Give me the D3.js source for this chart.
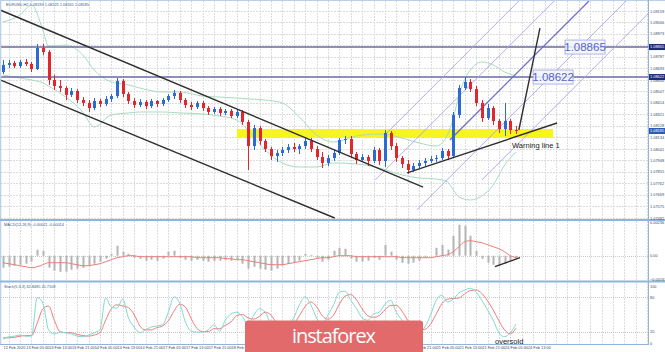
<!DOCTYPE html>
<html>
<head>
<meta charset="utf-8">
<script src="https://cdn.jsdelivr.net/npm/d3@7"></script>
<style>
	body { margin: 0; background: #fff; }
	svg { display: block; font-family: "Liberation Sans", Arial, sans-serif; }
</style>
</head>
<body>
<svg id="chart" width="665" height="352"></svg>
<script>
// ---- data (EURUSD H2) ----
const opens = [1.08663,1.08720,1.08736,1.08711,1.08744,1.08728,1.08687,1.08857,1.08825,1.08598,
	1.08549,1.08533,1.08477,1.08509,1.08436,1.08412,1.08371,1.08428,1.08404,1.08444,
	1.08468,1.08590,1.08485,1.08428,1.08396,1.08420,1.08387,1.08428,1.08404,1.08436,
	1.08468,1.08493,1.08436,1.08396,1.08379,1.08412,1.08371,1.08339,1.08363,1.08331,
	1.08347,1.08306,1.08339,1.08258,1.08063,1.08209,1.08104,1.08039,1.07982,1.08007,
	1.08031,1.08055,1.08039,1.08063,1.08104,1.08039,1.07974,1.07926,1.07966,1.08007,
	1.08112,1.08120,1.07999,1.07950,1.07974,1.07942,1.08031,1.07942,1.08169,1.08063,
	1.07966,1.07918,1.07869,1.07901,1.07926,1.07942,1.07958,1.07966,1.08023,1.07982,
	1.08315,1.08533,1.08582,1.08525,1.08412,1.08290,1.08371,1.08266,1.08201,1.08266,
	1.08193];
const highs = [1.08760,1.08760,1.08752,1.08760,1.08768,1.08744,1.08890,1.08890,1.08841,1.08639,
	1.08598,1.08549,1.08533,1.08525,1.08460,1.08436,1.08452,1.08444,1.08468,1.08485,
	1.08614,1.08606,1.08501,1.08452,1.08444,1.08436,1.08444,1.08436,1.08452,1.08485,
	1.08517,1.08509,1.08452,1.08420,1.08428,1.08428,1.08387,1.08379,1.08379,1.08363,
	1.08363,1.08355,1.08355,1.08274,1.08234,1.08225,1.08120,1.08055,1.08031,1.08055,
	1.08080,1.08088,1.08080,1.08128,1.08128,1.08063,1.08015,1.07991,1.08031,1.08128,
	1.08144,1.08144,1.08015,1.07999,1.07991,1.08055,1.08047,1.08193,1.08185,1.08088,
	1.07982,1.07950,1.07926,1.07950,1.07966,1.07982,1.07991,1.08047,1.08039,1.08339,
	1.08558,1.08622,1.08606,1.08549,1.08436,1.08404,1.08387,1.08282,1.08412,1.08282,
	1.08225];
const lows = [1.08647,1.08695,1.08695,1.08695,1.08711,1.08663,1.08679,1.08800,1.08558,1.08517,
	1.08501,1.08436,1.08460,1.08412,1.08387,1.08339,1.08355,1.08379,1.08387,1.08420,
	1.08452,1.08460,1.08404,1.08371,1.08379,1.08363,1.08371,1.08379,1.08387,1.08420,
	1.08444,1.08412,1.08371,1.08355,1.08363,1.08347,1.08315,1.08323,1.08306,1.08315,
	1.08290,1.08290,1.08234,1.07869,1.08031,1.08072,1.08015,1.07950,1.07934,1.07982,
	1.08007,1.08015,1.07999,1.08039,1.08015,1.07950,1.07885,1.07901,1.07942,1.07991,
	1.08080,1.07966,1.07918,1.07934,1.07901,1.07926,1.07909,1.07893,1.08031,1.07934,
	1.07885,1.07837,1.07853,1.07885,1.07901,1.07926,1.07934,1.07950,1.07950,1.07966,
	1.08290,1.08517,1.08501,1.08387,1.08258,1.08274,1.08234,1.08169,1.08144,1.08161,
	1.08161];
const closes = [1.08720,1.08736,1.08711,1.08744,1.08728,1.08687,1.08857,1.08825,1.08598,1.08549,
	1.08533,1.08477,1.08509,1.08436,1.08412,1.08371,1.08428,1.08404,1.08444,1.08468,
	1.08590,1.08485,1.08428,1.08396,1.08420,1.08387,1.08428,1.08404,1.08436,1.08468,
	1.08493,1.08436,1.08396,1.08379,1.08412,1.08371,1.08339,1.08363,1.08331,1.08347,
	1.08306,1.08339,1.08258,1.08063,1.08209,1.08104,1.08039,1.07982,1.08007,1.08031,
	1.08055,1.08039,1.08063,1.08104,1.08039,1.07974,1.07926,1.07966,1.08007,1.08112,
	1.08120,1.07999,1.07950,1.07974,1.07942,1.08031,1.07942,1.08169,1.08063,1.07966,
	1.07918,1.07869,1.07901,1.07926,1.07942,1.07958,1.07966,1.08023,1.07982,1.08315,
	1.08533,1.08582,1.08525,1.08412,1.08290,1.08371,1.08266,1.08201,1.08266,1.08193,
	1.08185];

// Bollinger bands, read at a few candles
const bandIdx = [0,3,5,7,8,11,14,16,19,22,24,28,31,35,38,41,43,46,49,52,55,58,62,66,70,73,76,78,79,80,82,84,86,88,90];
const bandUpper = [1.09068,1.09125,1.09206,1.09003,1.08873,1.08881,1.08801,1.08679,1.08582,1.08558,
	1.08533,1.08501,1.08501,1.08468,1.08460,1.08452,1.08444,1.08436,1.08412,1.08298,
	1.08153,1.08096,1.08144,1.08161,1.08128,1.08088,1.08063,1.08153,1.08290,1.08477,
	1.08679,1.08744,1.08720,1.08663,1.08630];
const bandLower = [1.08639,1.08614,1.08598,1.08574,1.08549,1.08460,1.08339,1.08217,1.08315,1.08331,
	1.08339,1.08339,1.08331,1.08323,1.08306,1.08274,1.08193,1.08031,1.07926,1.07893,
	1.07893,1.07926,1.07918,1.07885,1.07829,1.07804,1.07796,1.07772,1.07707,1.07650,
	1.07626,1.07658,1.07747,1.07909,1.08015];

// MACD histogram and signal line
const macdHist = [-0.00084,-0.00077,-0.0007,-0.00063,-0.00056,-0.00042,0.00042,0.00035,-0.00084,-0.00105,
	-0.00112,-0.00112,-0.00098,-0.00091,-0.00084,-0.0007,-0.00056,-0.00042,-0.00021,0.00014,
	0.0007,0.00028,0.00014,-0.00014,-0.00021,-0.00035,-0.00028,-0.00035,-0.00021,0.00028,
	0.00035,-0.00014,-0.00028,-0.00035,-0.00028,-0.00035,-0.00042,-0.00035,-0.00035,-0.00028,
	-0.00035,-0.00028,-0.00056,-0.00091,-0.00077,-0.00091,-0.00098,-0.00105,-0.00091,-0.0007,
	-0.00056,-0.00049,-0.00035,0.00014,0.00007,-0.00021,-0.00042,-0.00028,0.00035,0.00056,
	0.00049,-0.00021,-0.00042,-0.00042,-0.00035,-0.00014,-0.00028,0.00077,0.00028,-0.00028,
	-0.00049,-0.00056,-0.00049,-0.00035,-0.00014,0,0.00056,0.00077,0.00042,0.0014,
	0.00217,0.0021,0.0014,0.00035,-0.00021,-0.00049,-0.00063,-0.0007,-0.00056,-0.00035,
	-0.00021];
const macdSignal = [-0.00049,-0.00056,-0.00063,-0.0007,-0.00077,-0.00084,-0.00077,-0.00063,-0.00049,-0.00049,
	-0.00049,-0.00049,-0.00056,-0.00063,-0.0007,-0.0007,-0.00063,-0.00056,-0.00042,-0.00028,
	-0.00014,-0.00007,0,0,-0.00007,-0.00007,-0.00007,-0.00007,-0.00007,-0.00007,
	-0.00007,-0.00007,-0.00007,-0.00007,-0.00014,-0.00014,-0.00014,-0.00014,-0.00014,-0.00021,
	-0.00021,-0.00028,-0.00028,-0.00035,-0.00042,-0.00049,-0.00056,-0.00063,-0.00063,-0.00063,
	-0.00056,-0.00049,-0.00042,-0.00035,-0.00028,-0.00021,-0.00014,-0.00014,-0.00007,0,
	0,0,-0.00007,-0.00007,-0.00007,-0.00007,-0.00007,-0.00007,-0.00007,-0.00007,
	-0.00014,-0.00014,-0.00014,-0.00014,-0.00014,-0.00014,-0.00007,0,0.00007,0.00028,
	0.00063,0.00098,0.00105,0.00098,0.00091,0.00077,0.00063,0.00049,0.00028,0,
	-0.00014];

// Stochastic %K and %D
const stochK = [7,11,12,14,12,12,80,70,23,16,19,18,16,12,11,14,18,23,79,63,
	61,77,44,28,18,23,28,30,32,54,81,70,37,21,19,19,23,32,21,40,
	51,54,46,32,49,60,54,32,19,23,32,44,67,81,67,44,32,49,67,89,
	91,75,61,44,40,51,54,68,75,54,40,26,23,21,28,49,75,84,72,77,
	88,93,96,89,75,58,40,18,11,18,33];
const stochD = [9,9,10,12,13,13,35,60,65,40,20,18,18,15,13,12,14,18,40,60,
	67,65,62,50,30,23,23,27,30,39,56,68,63,43,26,20,20,25,25,31,
	37,48,50,44,42,47,54,49,35,25,25,33,48,64,72,64,48,42,49,68,
	82,85,76,60,48,45,48,58,66,66,56,40,30,23,24,33,51,69,77,78,
	79,86,92,93,87,74,58,39,23,16,26];

// right axis ticks, levels, time labels
const priceTicks = [1.09159,1.09066,1.08973,1.08880,1.08787,1.08693,1.08600,1.08507,1.08414,1.08321,
	1.08228,1.08134,1.08041,1.07948,1.07855,1.07762,1.07669,1.07575,1.07482];
const levelPrices = [1.08865, 1.08622];
const levelLabelIdx = [98.6, 93];
const lastPrice = 1.08185;
const timeLabels = ['12 Feb 2020','13 Feb 05:00','13 Feb 13:00','13 Feb 21:00','14 Feb 05:00','14 Feb 13:00',
	'14 Feb 21:00','17 Feb 05:00','17 Feb 13:00','17 Feb 21:00','18 Feb 05:00','18 Feb 13:00',
	'18 Feb 21:00','19 Feb 05:00','19 Feb 13:00','19 Feb 21:00','20 Feb 05:00','20 Feb 13:00',
	'20 Feb 21:00','21 Feb 05:00','21 Feb 13:00','21 Feb 21:00','24 Feb 05:00','24 Feb 13:00'];

// drawn objects: [index, price] pairs
const trendLines = [
	[[-0.5, 1.09165], [73.7, 1.07731]],
	[[-0.5, 1.08598], [58.2, 1.07480]],
	[[70.9, 1.07845], [97.2, 1.08250]],
	[[90.5, 1.08193], [94.2, 1.09019]]
];
const forkLines = [
	[[67.0, 1.08153], [90.5, 1.09238]],
	[[65.3, 1.07788], [96.7, 1.09238]],
	[[78.4, 1.08112], [102.8, 1.09238]],
	[[72.6, 1.07545], [109.3, 1.09238]],
	[[84.0, 1.07788], [115.4, 1.09238]]
];
const forkMedian = 2;
const zoneIdx = [41.05, 96.5];
const zonePrices = [1.08128, 1.08201];
const macdTrend = [[86.3, -0.00077], [90.7, -0.00014]];


// ---- layout ----
const plotRight = 648;
const main = { top: 1, bottom: 219 },
	macdPane = { top: 221, bottom: 280 },
	stochPane = { top: 283, bottom: 344 };

const svg = d3.select('#chart');

const x = d3.scaleLinear().domain([0, 90]).range([3, 516]);
const y = d3.scaleLinear().domain([1.07472, 1.09238]).range([219, 1]);
const yMacd = d3.scaleLinear().domain([-0.00163, 0.00236]).range([279, 222]);
const yStoch = d3.scaleLinear().domain([0, 100]).range([343, 286]);

const gridColor = '#dcdcdc';
const tinyFont = 3.9;

svg.append('rect').attr('width', 665).attr('height', 352).attr('fill', '#fff');

// clip paths for every pane
[['clipMain', main], ['clipMacd', macdPane], ['clipStoch', stochPane]].forEach(([id, p]) => {
	svg.append('clipPath').attr('id', id)
		.append('rect')
		.attr('x', 1).attr('y', p.top)
		.attr('width', plotRight - 1).attr('height', p.bottom - p.top);
});

// vertical grid, every 2 candles
const gridIdx = d3.range(1, 114, 2);
[main, macdPane, stochPane].forEach((p) => {
	svg.append('g').selectAll('line')
		.data(gridIdx)
		.enter()
		.append('line')
		.attr('x1', (d) => Math.round(x(d)) + 0.5)
		.attr('x2', (d) => Math.round(x(d)) + 0.5)
		.attr('y1', p.top)
		.attr('y2', p.bottom)
		.attr('stroke', gridColor)
		.attr('stroke-dasharray', '2,1');
});

// horizontal grid
svg.append('g').selectAll('line')
	.data(priceTicks)
	.enter()
	.append('line')
	.attr('x1', 1).attr('x2', plotRight)
	.attr('y1', (d) => Math.round(y(d)) + 0.5)
	.attr('y2', (d) => Math.round(y(d)) + 0.5)
	.attr('stroke', gridColor)
	.attr('stroke-dasharray', '2,1');

svg.append('g').selectAll('line')
	.data([20, 80])
	.enter()
	.append('line')
	.attr('x1', 1).attr('x2', plotRight)
	.attr('y1', (d) => Math.round(yStoch(d)) + 0.5)
	.attr('y2', (d) => Math.round(yStoch(d)) + 0.5)
	.attr('stroke', '#c8c8c8')
	.attr('stroke-dasharray', '1,1');

svg.append('line')
	.attr('x1', 1).attr('x2', plotRight)
	.attr('y1', Math.round(yMacd(0)) + 0.5).attr('y2', Math.round(yMacd(0)) + 0.5)
	.attr('stroke', '#c8c8c8')
	.attr('stroke-dasharray', '1,1');


// ---- main pane ----
const gMain = svg.append('g').attr('clip-path', 'url(#clipMain)');
const pt = d3.line().x((d) => x(d[0])).y((d) => y(d[1]));

// yellow support zone
gMain.append('rect')
	.attr('x', x(zoneIdx[0]))
	.attr('width', x(zoneIdx[1]) - x(zoneIdx[0]))
	.attr('y', y(zonePrices[1]))
	.attr('height', y(zonePrices[0]) - y(zonePrices[1]))
	.attr('fill', '#f7f51e');

// bollinger bands
[bandUpper, bandLower].forEach((band) => {
	gMain.append('path')
		.datum(bandIdx.map((d, i) => [d, band[i]]))
		.attr('d', pt.curve(d3.curveMonotoneX))
		.attr('fill', 'none')
		.attr('stroke', '#a6dcc0')
		.attr('stroke-width', 1);
});
pt.curve(d3.curveLinear);

// horizontal levels
gMain.selectAll('.level')
	.data(levelPrices)
	.enter()
	.append('line')
	.attr('class', 'level')
	.attr('x1', 1).attr('x2', plotRight)
	.attr('y1', (d) => y(d)).attr('y2', (d) => y(d))
	.attr('stroke', '#6b6aa6')
	.attr('stroke-width', 1.6);

// pitchfork
gMain.selectAll('.fork')
	.data(forkLines)
	.enter()
	.append('path')
	.attr('class', 'fork')
	.attr('d', pt)
	.attr('fill', 'none')
	.attr('stroke', (d, i) => i === forkMedian ? '#6e6ec8' : '#a6a6e6')
	.attr('stroke-width', (d, i) => i === forkMedian ? 1.3 : 0.9);

// candles
const candles = closes.map((c, i) => ({ i: i, o: opens[i], h: highs[i], l: lows[i], c: c }));
const candleColor = (d) => d.c >= d.o ? '#2c6ad4' : '#e2262d';

const gCandle = gMain.append('g');
gCandle.selectAll('.wick')
	.data(candles)
	.enter()
	.append('line')
	.attr('x1', (d) => Math.round(x(d.i)) + 0.5)
	.attr('x2', (d) => Math.round(x(d.i)) + 0.5)
	.attr('y1', (d) => y(d.h))
	.attr('y2', (d) => y(d.l))
	.attr('stroke', candleColor);
gCandle.selectAll('.body')
	.data(candles)
	.enter()
	.append('rect')
	.attr('x', (d) => Math.round(x(d.i)) - 1)
	.attr('width', 3)
	.attr('y', (d) => y(Math.max(d.o, d.c)))
	.attr('height', (d) => Math.max(1, Math.abs(y(d.o) - y(d.c))))
	.attr('fill', candleColor);

// trend lines
gMain.selectAll('.trend')
	.data(trendLines)
	.enter()
	.append('path')
	.attr('class', 'trend')
	.attr('d', pt)
	.attr('fill', 'none')
	.attr('stroke', '#2f2f2f')
	.attr('stroke-width', 1.4);

// level labels
levelPrices.forEach((p, k) => {
	let g = svg.append('g')
		.attr('transform', 'translate(' + x(levelLabelIdx[k]) + ',' + y(p) + ')');
	g.append('rect')
		.attr('x', 0).attr('y', -7)
		.attr('width', 40).attr('height', 14)
		.attr('fill', '#f2f4ff').attr('fill-opacity', 0.85)
		.attr('stroke', '#9aa2dc').attr('stroke-width', 0.8);
	g.append('text')
		.attr('x', 20).attr('y', 4.2)
		.attr('text-anchor', 'middle')
		.attr('font-size', 11.5)
		.attr('fill', '#5566c4')
		.text(d3.format('.5f')(p));
});

svg.append('text')
	.attr('x', 512).attr('y', 148)
	.attr('font-size', 7.5)
	.attr('fill', '#222')
	.text('Warning line 1');

svg.append('text')
	.attr('x', 6).attr('y', 5.5)
	.attr('font-size', tinyFont)
	.attr('fill', '#3b5a8a')
	.text('EURUSD,H2  1.08193 1.08225 1.08161 1.08185');


// ---- MACD pane ----
const gMacd = svg.append('g').attr('clip-path', 'url(#clipMacd)');
gMacd.selectAll('.hist')
	.data(macdHist)
	.enter()
	.append('rect')
	.attr('x', (d, i) => Math.round(x(i)) - 0.5)
	.attr('width', 2)
	.attr('y', (d) => Math.min(yMacd(d), yMacd(0)))
	.attr('height', (d) => Math.abs(yMacd(d) - yMacd(0)))
	.attr('fill', '#b4b4b4');
gMacd.append('path')
	.datum(macdSignal)
	.attr('d', d3.line().x((d, i) => x(i)).y((d) => yMacd(d)).curve(d3.curveMonotoneX))
	.attr('fill', 'none')
	.attr('stroke', '#ee7b7b')
	.attr('stroke-width', 1);
gMacd.append('path')
	.datum(macdTrend)
	.attr('d', d3.line().x((d) => x(d[0])).y((d) => yMacd(d[1])))
	.attr('stroke', '#2f2f2f')
	.attr('stroke-width', 1.4);
svg.append('text')
	.attr('x', 4).attr('y', 226)
	.attr('font-size', tinyFont)
	.attr('fill', '#3b5a8a')
	.text('MACD(12,26,9) -0.00021 -0.00014');


// ---- Stochastic pane ----
const gStoch = svg.append('g').attr('clip-path', 'url(#clipStoch)');
const stochLine = d3.line().x((d, i) => x(i)).y((d) => yStoch(d)).curve(d3.curveMonotoneX);
gStoch.append('path').datum(stochD)
	.attr('d', stochLine).attr('fill', 'none')
	.attr('stroke', '#ee7b7b').attr('stroke-width', 1);
gStoch.append('path').datum(stochK)
	.attr('d', stochLine).attr('fill', 'none')
	.attr('stroke', '#7fd9d0').attr('stroke-width', 1);
svg.append('text')
	.attr('x', 4).attr('y', 287.5)
	.attr('font-size', tinyFont)
	.attr('fill', '#3b5a8a')
	.text('Stoch(5,3,3) 32.8485 25.7109');


// ---- frames ----
const frameColor = '#8fb4de';
svg.append('line').attr('x1', 0.5).attr('x2', 0.5).attr('y1', 0).attr('y2', 345)
	.attr('stroke', '#b8d0ea').attr('stroke-width', 1.5);
svg.append('line').attr('x1', 0).attr('x2', 665).attr('y1', 0.5).attr('y2', 0.5)
	.attr('stroke', '#b8d0ea');
svg.append('line').attr('x1', plotRight + 0.5).attr('x2', plotRight + 0.5).attr('y1', 0).attr('y2', 345)
	.attr('stroke', frameColor);
[220, 281.5].forEach((yy) => {
	svg.append('line').attr('x1', 0).attr('x2', 665).attr('y1', yy).attr('y2', yy)
		.attr('stroke', frameColor).attr('stroke-width', 2);
});
svg.append('line').attr('x1', 0).attr('x2', plotRight).attr('y1', 344.5).attr('y2', 344.5)
	.attr('stroke', frameColor);


// ---- axes ----
const axisStyle = (g) => {
	g.select('.domain').remove();
	g.selectAll('text').attr('font-size', tinyFont).attr('fill', '#3a4a6a');
};

svg.append('g')
	.attr('transform', 'translate(' + (plotRight + 1) + ',0)')
	.call(d3.axisRight(y).tickValues(priceTicks).tickFormat(d3.format('.5f')).tickSize(0).tickPadding(1))
	.call(axisStyle);
svg.append('g')
	.attr('transform', 'translate(' + (plotRight + 1) + ',0)')
	.call(d3.axisRight(yMacd).tickValues([0.00236, 0, -0.00163])
		.tickFormat((d) => d === 0 ? '0.00' : d3.format('.5f')(d)).tickSize(0).tickPadding(1))
	.call(axisStyle);
svg.append('g')
	.attr('transform', 'translate(' + (plotRight + 1) + ',0)')
	.call(d3.axisRight(yStoch).tickValues([100, 80, 20, 0]).tickSize(0).tickPadding(1))
	.call(axisStyle);

svg.append('g')
	.attr('transform', 'translate(0,345)')
	.call(d3.axisBottom(x).tickValues(timeLabels.map((d, k) => k * 4))
		.tickFormat((d, k) => timeLabels[k]).tickSize(0).tickPadding(1.5))
	.call(axisStyle)
	.selectAll('text').attr('text-anchor', 'start').attr('dy', '0.55em');

// price tags on the right axis
const tags = levelPrices.map((p) => ({ p: p, fill: '#1d2a78' }))
	.concat([{ p: lastPrice, fill: '#2d5cb6' }]);
tags.forEach((t) => {
	svg.append('rect')
		.attr('x', plotRight + 1).attr('y', y(t.p) - 3)
		.attr('width', 16).attr('height', 6)
		.attr('fill', t.fill);
	svg.append('text')
		.attr('x', plotRight + 2).attr('y', y(t.p) + 1.4)
		.attr('font-size', tinyFont).attr('fill', '#fff')
		.text(d3.format('.5f')(t.p));
});

svg.append('text')
	.attr('x', 495).attr('y', 344)
	.attr('font-size', 7.5)
	.attr('fill', '#222')
	.text('oversold');


// ---- watermark ----
svg.append('rect')
	.attr('x', 245).attr('y', 320.5)
	.attr('width', 178).attr('height', 34)
	.attr('rx', 3)
	.attr('fill', '#e36a6a');
svg.append('text')
	.attr('x', 334).attr('y', 343)
	.attr('text-anchor', 'middle')
	.attr('font-family', '"Open Sans", sans-serif')
	.attr('font-size', 20)
	.attr('fill', '#fff')
	.attr('textLength', 84)
	.text('instaforex');
</script>
</body>
</html>
